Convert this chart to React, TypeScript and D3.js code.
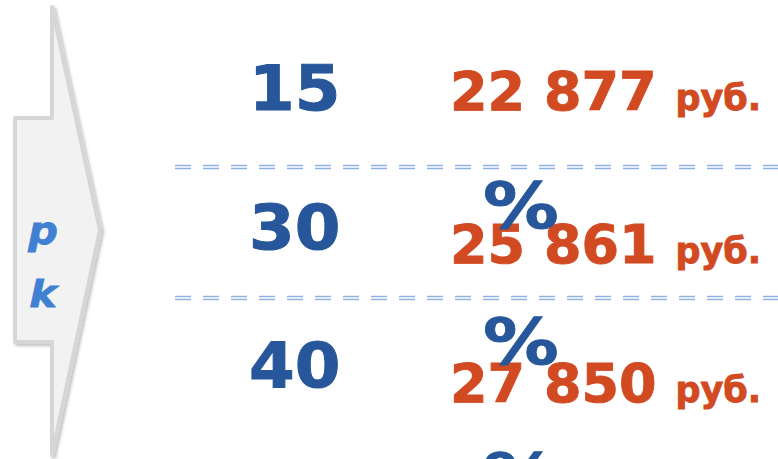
import React, { useEffect, useRef } from 'react';
import * as d3 from 'd3';

const percents = [15, 30, 40];
const amounts = [22877, 25861, 27850];
const percentSign = '%';
const unitLabel = 'руб.';
const sideLetters = ['p', 'k'];

const width = 778;
const height = 459;

const blue = '#27579a';
const red = '#d24a22';
const letterBlue = '#3f80d3';
const dashBlue = '#8fb3e3';

const ruLocale = d3.formatLocale({
    decimal: ',',
    thousands: ' ',
    grouping: [3],
    currency: ['', ' руб.'],
});
const fmt = ruLocale.format(',d');

export default function App() {
    const ref = useRef(null);

    useEffect(() => {
        const svg = d3.select(ref.current);
        svg.selectAll('*').remove();

        const n = percents.length;
        const idx = d3.range(n);

        // row positions (baselines)
        const rowY = d3.scaleLinear().domain([0, n - 1]).range([110, 387]);
        const pctY = d3.scaleLinear().domain([0, n - 1]).range([228, 499]);
        const amountY = d3.scaleLinear().domain([0, 1, 2]).range([110, 263, 402]);
        const sepY = d3.scaleLinear().domain([0, 1]).range([167, 298]);
        const letterY = d3.scaleLinear().domain([0, 1]).range([244, 307]);

        const defs = svg.append('defs');
        const filter = defs.append('filter')
            .attr('id', 'shadow')
            .attr('x', '-30%').attr('y', '-10%')
            .attr('width', '160%').attr('height', '120%');
        filter.append('feDropShadow')
            .attr('dx', 2).attr('dy', 2)
            .attr('stdDeviation', 1.5)
            .attr('flood-color', '#000')
            .attr('flood-opacity', 0.25);

        svg.append('rect')
            .attr('width', width).attr('height', height)
            .attr('fill', '#ffffff');

        // side arrow
        const arrow = d3.path();
        arrow.moveTo(52, 7);
        arrow.lineTo(100, 230);
        arrow.lineTo(52, 455);
        arrow.lineTo(52, 342);
        arrow.lineTo(15, 342);
        arrow.lineTo(15, 118);
        arrow.lineTo(52, 118);
        arrow.closePath();
        svg.append('path')
            .attr('d', arrow.toString())
            .attr('fill', '#f2f2f2')
            .attr('stroke', '#d6d6d6')
            .attr('stroke-width', 4)
            .attr('stroke-linejoin', 'round')
            .attr('filter', 'url(#shadow)');

        svg.selectAll('text.letter')
            .data(sideLetters)
            .enter()
            .append('text')
              .attr('class', 'letter')
              .attr('transform', (_d, i) => `translate(43,${letterY(i)}) scale(1.12,1)`)
              .attr('text-anchor', 'middle')
              .attr('font-family', 'DejaVu Sans')
              .attr('font-weight', 'bold')
              .attr('font-style', 'italic')
              .attr('font-size', 37)
              .attr('fill', letterBlue)
              .attr('stroke', letterBlue)
              .attr('stroke-width', 0.8)
              .text(d => d);

        // dashed double separators
        const seps = d3.range(n - 1);
        [0, 3].forEach(off => {
            svg.selectAll(null)
                .data(seps)
                .enter()
                .append('line')
                  .attr('x1', 175)
                  .attr('x2', width)
                  .attr('y1', d => sepY(d) - 1.5 + off)
                  .attr('y2', d => sepY(d) - 1.5 + off)
                  .attr('stroke', dashBlue)
                  .attr('stroke-width', 1.3)
                  .attr('stroke-dasharray', '16 12');
        });

        // percent values
        svg.selectAll(null)
            .data(idx)
            .enter()
            .append('text')
              .attr('transform', i => `translate(249,${rowY(i)}) scale(1.06,1)`)
              .attr('font-family', 'DejaVu Sans')
              .attr('font-weight', 'bold')
              .attr('font-size', 62)
              .attr('fill', blue)
              .attr('stroke', blue)
              .attr('stroke-width', 1)
              .text(i => String(percents[i]));

        // amounts
        const amt = svg.selectAll(null)
            .data(idx)
            .enter()
            .append('text')
              .attr('x', 450)
              .attr('y', i => amountY(i))
              .attr('font-family', 'DejaVu Sans')
              .attr('font-weight', 'bold')
              .attr('font-size', 54)
              .attr('fill', red)
              .attr('stroke', red)
              .attr('stroke-width', 0.9)
              .attr('xml:space', 'preserve');
        amt.append('tspan').text(i => fmt(amounts[i]) + ' ');
        amt.append('tspan')
            .attr('font-size', 35)
            .text(unitLabel);

        // wrapped percent signs
        svg.selectAll(null)
            .data(idx)
            .enter()
            .append('text')
              .attr('transform', i => `translate(483,${pctY(i)}) scale(1.22,1.03)`)
              .attr('font-family', 'DejaVu Sans')
              .attr('font-weight', 'bold')
              .attr('font-size', 62)
              .attr('fill', blue)
              .attr('stroke', blue)
              .attr('stroke-width', 0.8)
              .text(percentSign);
    }, []);

    return (
        <div style={{ position: 'absolute', left: 0, top: 0 }}>
            <svg ref={ref} width={width} height={height} viewBox={`0 0 ${width} ${height}`} style={{ display: 'block' }}>
            </svg>
        </div>
    );
}
